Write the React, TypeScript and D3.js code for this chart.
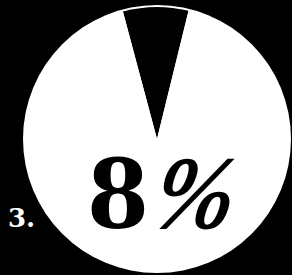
import * as d3 from 'd3'

const W = 292
const H = 275

const labels = ['share', 'rest']
const values = [8, 92]
const bigNumber = '8'
const bigUnit = '%'
const indexLabel = '3.'

const CX = 157
const CY = 139
const R = 134

export default function App() {
  const slice = (values[0] / d3.sum(values)) * Math.PI * 2
  const pie = d3
    .pie<number>()
    .sort(null)
    .startAngle(-slice / 2 - 0.01)
    .endAngle(Math.PI * 2 - slice / 2 - 0.01)
  const arcs = pie(values)
  const arc = d3.arc<d3.PieArcDatum<number>>().innerRadius(0).outerRadius(R - 2)

  return (
    <svg
      width={W}
      height={H}
      style={{ position: 'absolute', left: 0, top: 0, background: '#000' }}
    >
      <rect width={W} height={H} fill="#000" />
      <circle cx={CX} cy={CY} r={R} fill="#fff" />
      <g transform={`translate(${CX},${CY})`}>
        {arcs.map((a, i) => (
          <path key={labels[i]} d={arc(a) ?? ''} fill={i === 0 ? '#000' : '#fff'} />
        ))}
      </g>
      <text
        x={87}
        y={228}
        fontFamily="'DejaVu Serif', serif"
        fontWeight="bold"
        fontSize={96}
        fill="#000"
        textLength={62}
        lengthAdjust="spacingAndGlyphs"
      >
        {bigNumber}
      </text>
      {/* percent sign: slanted, a little lighter than the digit */}
      <g transform="translate(150,228) skewX(-10)">
        <text
          x={0}
          y={0}
          fontFamily="'Liberation Serif', serif"
          fontWeight="bold"
          fontStyle="italic"
          fontSize={104}
          fill="#000"
          textLength={80}
          lengthAdjust="spacingAndGlyphs"
        >
          {bigUnit}
        </text>
      </g>
      <text
        x={8}
        y={227}
        fontFamily="'DejaVu Serif', serif"
        fontWeight="bold"
        fontSize={26}
        fill="#fff"
      >
        {indexLabel}
      </text>
    </svg>
  )
}
